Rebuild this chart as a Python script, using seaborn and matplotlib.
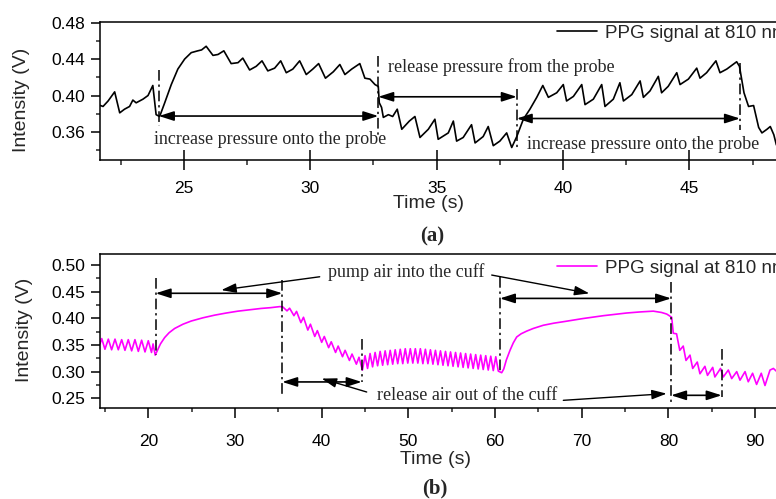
import matplotlib
matplotlib.use("Agg")
import matplotlib.pyplot as plt
import seaborn as sns
import pandas as pd
from matplotlib.ticker import MultipleLocator, FormatStrFormatter

# ---------------- data ----------------
signal_a = [
    (21.60, 0.390), (21.80, 0.388), (22.00, 0.394), (22.26, 0.404), (22.46, 0.381),
    (22.65, 0.385), (22.85, 0.388), (22.98, 0.395), (23.11, 0.392), (23.38, 0.396),
    (23.58, 0.400), (23.77, 0.411), (23.90, 0.379), (24.04, 0.377), (24.24, 0.392),
    (24.50, 0.412), (24.76, 0.429), (25.03, 0.440), (25.29, 0.447), (25.55, 0.449),
    (25.70, 0.450), (25.88, 0.454), (26.15, 0.444), (26.35, 0.445), (26.58, 0.449),
    (26.87, 0.435), (27.14, 0.436), (27.33, 0.441), (27.60, 0.428), (27.86, 0.432),
    (28.09, 0.438), (28.32, 0.427), (28.59, 0.430), (28.83, 0.438), (29.05, 0.425),
    (29.31, 0.429), (29.58, 0.438), (29.84, 0.423), (30.10, 0.429), (30.33, 0.435),
    (30.60, 0.419), (30.91, 0.426), (31.17, 0.434), (31.37, 0.423), (31.64, 0.429),
    (31.96, 0.435), (32.16, 0.419), (32.36, 0.418), (32.56, 0.412), (32.69, 0.410),
    (32.73, 0.392), (32.82, 0.387), (32.89, 0.376), (33.09, 0.379), (33.26, 0.377),
    (33.44, 0.385), (33.62, 0.363), (33.92, 0.372), (34.14, 0.377), (34.34, 0.354),
    (34.67, 0.363), (34.93, 0.374), (35.06, 0.352), (35.46, 0.359), (35.66, 0.372),
    (35.79, 0.350), (36.05, 0.354), (36.38, 0.368), (36.52, 0.348), (36.84, 0.355),
    (37.04, 0.366), (37.24, 0.345), (37.50, 0.350), (37.77, 0.359), (37.97, 0.343),
    (38.17, 0.355), (38.43, 0.374), (38.69, 0.385), (38.96, 0.398), (39.20, 0.411),
    (39.42, 0.398), (39.75, 0.403), (40.01, 0.412), (40.14, 0.394), (40.41, 0.399),
    (40.74, 0.412), (40.87, 0.390), (41.20, 0.396), (41.53, 0.412), (41.66, 0.388),
    (41.99, 0.396), (42.25, 0.414), (42.39, 0.394), (42.72, 0.401), (43.05, 0.416),
    (43.18, 0.398), (43.44, 0.405), (43.77, 0.421), (43.90, 0.403), (44.16, 0.410),
    (44.50, 0.425), (44.63, 0.412), (44.96, 0.418), (45.29, 0.430), (45.42, 0.419),
    (45.68, 0.425), (46.05, 0.438), (46.21, 0.425), (46.48, 0.429), (46.87, 0.437),
    (46.98, 0.432), (47.16, 0.403), (47.34, 0.388), (47.54, 0.389), (47.74, 0.365),
    (47.87, 0.359), (48.07, 0.363), (48.20, 0.366), (48.34, 0.357), (48.44, 0.346),
    (48.60, 0.340),
]

signal_b = [
    (14.43, 0.352), (14.63, 0.362), (15.00, 0.342), (15.39, 0.361), (15.77, 0.341),
    (16.16, 0.361), (16.54, 0.341), (16.93, 0.360), (17.31, 0.340), (17.69, 0.360),
    (18.08, 0.339), (18.46, 0.360), (18.85, 0.338), (19.23, 0.359), (19.62, 0.337),
    (20.00, 0.358), (20.37, 0.336), (20.55, 0.352), (20.80, 0.331),
    (21.00, 0.338), (21.40, 0.352), (21.89, 0.364), (22.40, 0.373), (23.04, 0.381),
    (24.00, 0.389), (24.96, 0.395), (26.30, 0.401), (27.66, 0.406), (29.00, 0.410),
    (30.35, 0.4135), (31.70, 0.416), (33.03, 0.4186), (34.10, 0.420), (35.16, 0.422),
    (35.50, 0.4216),
    (36.00, 0.414), (36.30, 0.419), (36.80, 0.405), (37.10, 0.413), (37.60, 0.392),
    (37.90, 0.402), (38.40, 0.378), (38.70, 0.389), (39.20, 0.366), (39.50, 0.377),
    (40.00, 0.355), (40.30, 0.366), (40.80, 0.345), (41.10, 0.356), (41.60, 0.336),
    (41.90, 0.348), (42.40, 0.328), (42.70, 0.340), (43.20, 0.321), (43.50, 0.333),
    (44.00, 0.314), (44.30, 0.327), (44.70, 0.303),
    (45.00, 0.330), (45.29, 0.306), (45.58, 0.334), (45.87, 0.309), (46.16, 0.336),
    (46.45, 0.311), (46.74, 0.338), (47.03, 0.312), (47.32, 0.339), (47.61, 0.313),
    (47.90, 0.340), (48.19, 0.314), (48.48, 0.341), (48.77, 0.315), (49.06, 0.342),
    (49.35, 0.315), (49.64, 0.343), (49.93, 0.316), (50.22, 0.343), (50.51, 0.316),
    (50.80, 0.343), (51.09, 0.316), (51.38, 0.343), (51.67, 0.315), (51.96, 0.342),
    (52.25, 0.315), (52.54, 0.341), (52.83, 0.314), (53.12, 0.340), (53.41, 0.313),
    (53.70, 0.339), (53.99, 0.312), (54.28, 0.338), (54.57, 0.311), (54.86, 0.337),
    (55.15, 0.310), (55.44, 0.336), (55.73, 0.309), (56.02, 0.335), (56.31, 0.308),
    (56.60, 0.334), (56.89, 0.307), (57.18, 0.333), (57.47, 0.306), (57.76, 0.332),
    (58.05, 0.305), (58.34, 0.331), (58.63, 0.304), (58.92, 0.330), (59.21, 0.303),
    (59.50, 0.329), (59.79, 0.302), (60.08, 0.328), (60.37, 0.301), (60.76, 0.298),
    (61.00, 0.305), (61.30, 0.322), (61.72, 0.340), (62.10, 0.354), (62.49, 0.365),
    (63.00, 0.371), (63.64, 0.376), (64.40, 0.381), (65.56, 0.387), (66.80, 0.391),
    (68.00, 0.394), (70.17, 0.3997), (72.50, 0.405), (75.17, 0.410), (76.71, 0.412),
    (78.25, 0.4135), (79.20, 0.411), (79.80, 0.408), (80.37, 0.402),
    (80.55, 0.372), (80.93, 0.371), (81.30, 0.340), (81.70, 0.348), (82.02, 0.321),
    (82.48, 0.331), (82.79, 0.306), (83.32, 0.318), (83.63, 0.296), (84.20, 0.310),
    (84.50, 0.293), (85.10, 0.308), (85.35, 0.290), (86.00, 0.306), (86.32, 0.290),
    (86.90, 0.303), (87.29, 0.287), (87.87, 0.300), (88.25, 0.284), (88.83, 0.300),
    (89.20, 0.281), (89.70, 0.297), (90.16, 0.276), (90.70, 0.297), (91.13, 0.274),
    (91.71, 0.303), (92.10, 0.306), (92.50, 0.300),
]

legend_label = "PPG signal at 810 nm"

# annotations, panel (a)
events_a = [24.01, 32.69, 38.17, 47.00]
event_spans_a = [(0.4285, 0.3664), (0.443, 0.356), (0.4066, 0.3427), (0.4358, 0.3627)]
arrows_a = [(24.01, 32.69, 0.3775), (32.69, 38.17, 0.3986), (38.17, 47.00, 0.3748)]
texts_a = [("increase pressure onto the probe", 28.43, 0.3518),
           ("release pressure from the probe", 37.57, 0.4314),
           ("increase pressure onto the probe", 43.18, 0.3463)]

# annotations, panel (b)
events_b = [20.85, 35.45, 44.61, 60.56, 80.30, 86.13]
event_spans_b = [(0.475, 0.331), (0.472, 0.259), (0.362, 0.281),
                 (0.478, 0.296), (0.469, 0.237), (0.343, 0.2524)]
arrows_b = [(20.85, 35.45, 0.447), (35.45, 44.61, 0.2807),
            (60.56, 80.30, 0.4374), (80.30, 86.13, 0.2556)]
texts_b = [("pump air into the cuff", 49.7, 0.487),
           ("release air out of the cuff", 56.8, 0.2556)]
pointers_b = [((39.77, 0.478), (28.42, 0.453)), ((59.61, 0.4812), (70.87, 0.4468)),
              ((45.19, 0.2618), (40.00, 0.287)), ((67.87, 0.2462), (79.79, 0.2588))]

# ---------------- figure ----------------
sns.set_theme(style="ticks")
plt.rcParams["font.family"] = ["Liberation Sans", "DejaVu Sans"]
plt.rcParams["axes.linewidth"] = 1.1

W, H = 776, 499
fig = plt.figure(figsize=(W / 100, H / 100), dpi=100)

ax1 = fig.add_axes([100 / W, 1 - 160 / H, 690.5 / W, 138 / H])
ax2 = fig.add_axes([100 / W, 1 - 408 / H, 681.2 / W, 154 / H])

df_a = pd.DataFrame(signal_a, columns=["time", "intensity"])
df_b = pd.DataFrame(signal_b, columns=["time", "intensity"])
sns.lineplot(data=df_a, x="time", y="intensity", ax=ax1, color="black", lw=1.2,
             estimator=None, label=legend_label)
sns.lineplot(data=df_b, x="time", y="intensity", ax=ax2, color="#ff00ff", lw=1.2,
             estimator=None, label=legend_label)

serif = ["Liberation Serif", "DejaVu Serif"]
dashdot = (0, (7, 2.5, 1.5, 2.5))
arrow_kw = dict(arrowstyle="<|-|>,head_length=0.75,head_width=0.24", color="black",
                lw=1.2, shrinkA=0, shrinkB=0, mutation_scale=12)
ptr_kw = dict(arrowstyle="-|>,head_length=0.75,head_width=0.24", color="black",
              lw=1.0, shrinkA=0, shrinkB=0, mutation_scale=12)

for ax, events, spans, arrows, texts in (
        (ax1, events_a, event_spans_a, arrows_a, texts_a),
        (ax2, events_b, event_spans_b, arrows_b, texts_b)):
    for t, (y0, y1) in zip(events, spans):
        ax.plot([t, t], [y0, y1], color="black", lw=1.1, linestyle=dashdot)
    for x0, x1, y in arrows:
        ax.annotate("", xy=(x1, y), xytext=(x0, y), arrowprops=arrow_kw)
    for s, x, y in texts:
        ax.text(x, y, s, ha="center", va="center", fontsize=13, family=serif)

for (x0, y0), (x1, y1) in pointers_b:
    ax2.annotate("", xy=(x1, y1), xytext=(x0, y0), arrowprops=ptr_kw)

# axes formatting
ax1.set_xlim(21.68, 49.0)
ax1.set_ylim(0.3293, 0.4806)
ax1.xaxis.set_major_locator(MultipleLocator(5))
ax1.xaxis.set_minor_locator(MultipleLocator(2.5))
ax1.yaxis.set_major_locator(MultipleLocator(0.04))
ax1.yaxis.set_minor_locator(MultipleLocator(0.02))
ax1.yaxis.set_major_formatter(FormatStrFormatter("%.2f"))
ax1.tick_params(axis="x", which="major", direction="inout", length=14, width=1.1,
                labelsize=12.5, pad=8, colors="black")
ax1.tick_params(axis="x", which="minor", direction="out", length=3.6, width=1.1)

ax2.set_xlim(14.43, 93.0)
ax2.set_ylim(0.2318, 0.5207)
ax2.xaxis.set_major_locator(MultipleLocator(10))
ax2.xaxis.set_minor_locator(MultipleLocator(5))
ax2.yaxis.set_major_locator(MultipleLocator(0.05))
ax2.yaxis.set_minor_locator(MultipleLocator(0.025))
ax2.yaxis.set_major_formatter(FormatStrFormatter("%.2f"))
ax2.tick_params(axis="x", which="major", direction="out", length=7.5, width=1.1,
                labelsize=12.5, pad=11)
ax2.tick_params(axis="x", which="minor", direction="out", length=3, width=1.1)

for ax in (ax1, ax2):
    ax.tick_params(axis="y", which="major", direction="out", length=6.5, width=1.1,
                   labelsize=12.5, pad=4)
    ax.tick_params(axis="y", which="minor", direction="out", length=3.2, width=1.1)
    ax.tick_params(colors="black")
    ax.set_xlabel("")
    ax.set_ylabel("")
    for sp in ax.spines.values():
        sp.set_visible(True)
        sp.set_color("black")
        sp.set_linewidth(1.1)
    ax.grid(False)

leg1 = ax1.legend(loc="center left", bbox_to_anchor=((557 - 100) / 690.5, (160 - 33) / 138),
                  frameon=False, borderpad=0, borderaxespad=0, handlelength=2.15,
                  handletextpad=0.4, fontsize=13.5)
leg2 = ax2.legend(loc="center left", bbox_to_anchor=((557 - 100) / 681.2, (408 - 268) / 154),
                  frameon=False, borderpad=0, borderaxespad=0, handlelength=2.15,
                  handletextpad=0.4, fontsize=13.5)

# labels
fig.text(22 / W, 1 - 100 / H, "Intensity (V)", rotation=90, ha="center", va="center", fontsize=14)
fig.text(25 / W, 1 - 330 / H, "Intensity (V)", rotation=90, ha="center", va="center", fontsize=14)
fig.text(428 / W, 1 - 203 / H, "Time (s)", ha="center", va="center", fontsize=14)
fig.text(435 / W, 1 - 460 / H, "Time (s)", ha="center", va="center", fontsize=14)
fig.text(432 / W, 1 - 236 / H, "(a)", ha="center", va="center", fontsize=15,
         family=serif, weight="bold")
fig.text(435 / W, 1 - 488 / H, "(b)", ha="center", va="center", fontsize=15,
         family=serif, weight="bold")

fig.savefig("out.png", dpi=100)
